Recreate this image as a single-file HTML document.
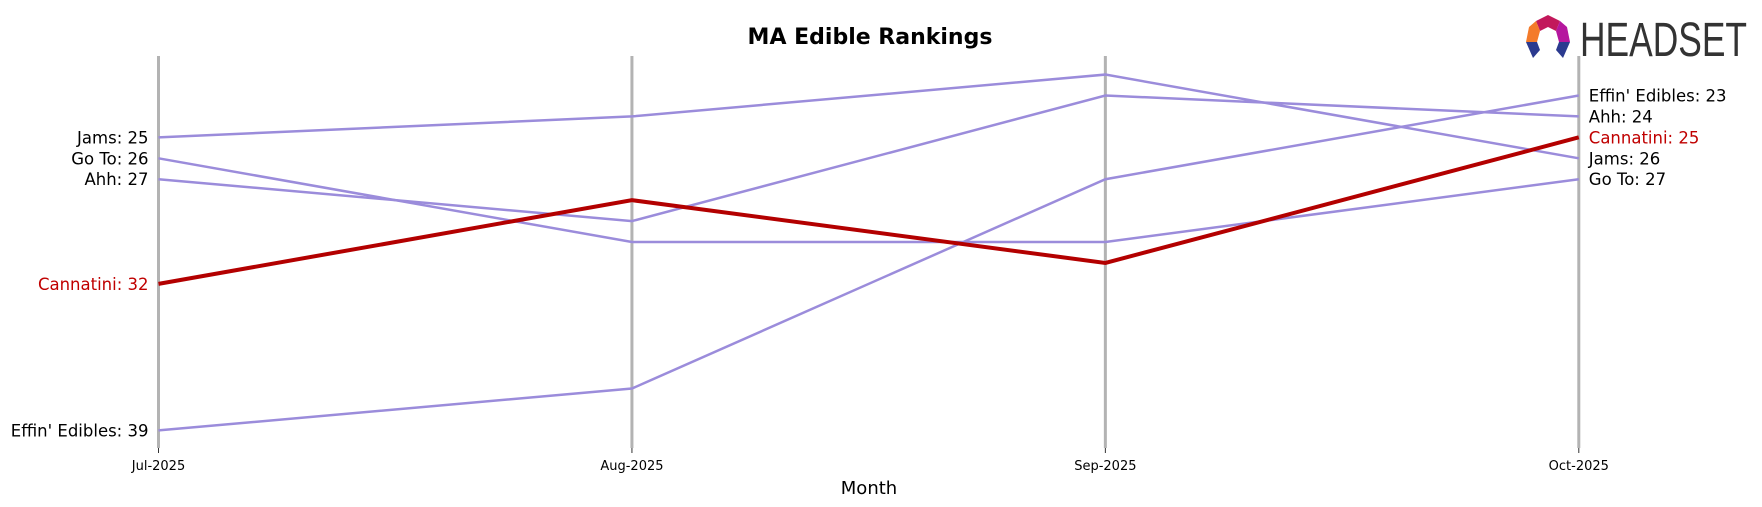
<!DOCTYPE html>
<html><head><meta charset="utf-8"><style>
html,body{margin:0;padding:0;background:#fff;}
svg{display:block;font-family:"Liberation Sans","DejaVu Sans",sans-serif;}
</style></head><body>
<svg id="chart" width="1762" height="507" viewBox="0 0 1762 507">
<text x="870" y="44" text-anchor="middle" font-size="22" font-weight="bold" font-family="DejaVu Sans, sans-serif">MA Edible Rankings</text>
<g>
<polygon points="1548,15 1560,21 1556,31 1548,27 1540,31 1536,21" fill="#c2185b"/>
<polygon points="1536,21 1540,31 1537,42 1526,42 1529,27" fill="#f47b2a"/>
<polygon points="1560,21 1567,27 1570,42 1559,42 1556,31" fill="#b5179e"/>
<polygon points="1526,42 1537,42 1540,50 1533,58" fill="#2b3a8f"/>
<polygon points="1559,42 1570,42 1563,58 1556,50" fill="#2b3a8f"/>
<text x="1580" y="56" font-size="48" fill="#333" textLength="167" lengthAdjust="spacingAndGlyphs">HEADSET</text>
</g>
<g id="axes"></g>
<g id="series"></g>
<text x="869" y="494" text-anchor="middle" font-size="18" font-family="DejaVu Sans, sans-serif">Month</text>
</svg>
<script>
const months = ["Jul-2025","Aug-2025","Sep-2025","Oct-2025"];
const brands = ["Jams","Go To","Ahh","Effin' Edibles","Cannatini"];
const jams = [25,24,22,26];
const goTo = [26,30,30,27];
const ahh = [27,29,23,24];
const effin = [39,37,27,23];
const cannatini = [32,28,31,25];
const seriesVals = [jams,goTo,ahh,effin,cannatini];
const highlight = "Cannatini";

const NS = "http://www.w3.org/2000/svg";
const x0 = 158.5, x1 = 1578.8;
const rMin = 23, rMax = 39, yTop = 95.5, yBot = 430.4;
function xScale(i){ return x0 + (x1 - x0) * i / (months.length - 1); }
function yScale(r){ return yTop + (yBot - yTop) * (r - rMin) / (rMax - rMin); }
function mk(tag, attrs, parent){ const e = document.createElementNS(NS, tag); for (const k in attrs) e.setAttribute(k, attrs[k]); parent.appendChild(e); return e; }

const axes = document.getElementById('axes');
months.forEach((m, i) => {
  const x = xScale(i);
  const l = mk('line', {x1:x, x2:x, y1:56, y2:448, stroke:'#b3b3b3', 'stroke-width':3}, axes);
  
  
  const t = mk('line', {x1:x, x2:x, y1:448, y2:453, stroke:'#333', 'stroke-width':1}, axes);
  
  
  const tx = mk('text', {x:x, y:470, 'text-anchor':'middle', 'font-size':13, 'font-family':'DejaVu Sans, sans-serif'}, axes);
  tx.textContent = m;
  
  
});

const sg = document.getElementById('series');
const order = brands.map((b, i) => i).sort((a, b) => (brands[a] === highlight) - (brands[b] === highlight));
order.forEach(i => {
  const b = brands[i], vals = seriesVals[i];
  const hl = b === highlight;
  const pts = vals.map((v, j) => xScale(j) + ',' + yScale(v)).join(' ');
  const pl = mk('polyline', {points:pts, fill:'none', stroke: hl ? '#b30000' : '#9b8cdb', 'stroke-width': hl ? 4 : 2.5}, sg);
  
  
  const col = hl ? '#c00000' : '#000';
  const lt = mk('text', {x:xScale(0) - 10, y:yScale(vals[0]) + 6, 'text-anchor':'end', 'font-size':16.5, fill:col, 'font-family':'DejaVu Sans, sans-serif'}, sg);
  lt.textContent = b + ': ' + vals[0];
  
  
  const last = vals[vals.length - 1];
  const rt = mk('text', {x:xScale(months.length - 1) + 10, y:yScale(last) + 6, 'text-anchor':'start', 'font-size':16.5, fill:col, 'font-family':'DejaVu Sans, sans-serif'}, sg);
  rt.textContent = b + ': ' + last;
  
  
});
</script>
</body></html>
